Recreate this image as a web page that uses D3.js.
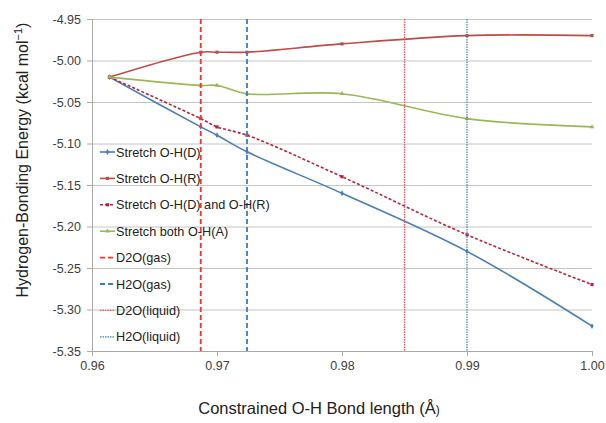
<!DOCTYPE html>
<html>
<head>
<meta charset="utf-8">
<script src="https://cdn.jsdelivr.net/npm/d3@7"></script>
<style>
  body { margin: 0; background: #fff; }
  svg { font-family: "Liberation Sans", Arial, sans-serif; }
</style>
</head>
<body>
<div id="chart"></div>
<script>
// Bond lengths (Å) where each stretch was computed
const bondLengths = [0.9614, 0.9687, 0.97, 0.9724, 0.98, 0.99, 1.00];

// Hydrogen-bonding energies (kcal/mol)
const stretchD = [-5.02, -5.08, -5.09, -5.11, -5.16, -5.23, -5.32];
const stretchR = [-5.02, -4.99, -4.99, -4.99, -4.98, -4.97, -4.97];
const stretchDR = [-5.02, -5.07, -5.08, -5.09, -5.14, -5.21, -5.27];
const stretchA = [-5.02, -5.03, -5.03, -5.04, -5.04, -5.07, -5.08];

// Reference O-H lengths (vertical markers)
const refNames = ['D2O(gas)', 'H2O(gas)', 'D2O(liquid)', 'H2O(liquid)'];
const refValues = [0.9687, 0.9724, 0.985, 0.99];

const xTicks = [0.96, 0.97, 0.98, 0.99, 1.00];
const yTicks = [-4.95, -5.00, -5.05, -5.10, -5.15, -5.20, -5.25, -5.30, -5.35];

const seriesNames = ['Stretch O-H(D)', 'Stretch O-H(R)', 'Stretch O-H(D) and O-H(R)', 'Stretch both O-H(A)'];

// Dimensions
const W = 606, H = 423;
const margin = { top: 19, right: 14, bottom: 72, left: 92 };
const width = W - margin.left - margin.right;
const height = H - margin.top - margin.bottom;

const svg = d3.select('#chart').append('svg')
  .attr('width', W)
  .attr('height', H);

const g = svg.append('g')
  .attr('transform', `translate(${margin.left},${margin.top})`);

// Scales
const x = d3.scaleLinear().domain([0.96, 1.00]).range([0, width]);
const y = d3.scaleLinear().domain([-5.35, -4.95]).range([height, 0]);

// Grid
g.append('g')
  .call(d3.axisLeft(y).tickValues(yTicks).tickSize(-width).tickFormat(''))
  .call(a => a.select('.domain').remove())
  .selectAll('line')
  .attr('stroke', '#c4c4c4');

// Y axis
const yAxis = g.append('g')
  .call(d3.axisLeft(y).tickValues(yTicks).tickSize(5).tickPadding(6).tickFormat(d3.format('.2f')));
yAxis.select('.domain').attr('stroke', '#aaaaaa');
yAxis.selectAll('line').attr('stroke', '#aaaaaa');
yAxis.selectAll('text')
  .attr('font-size', 12.5)
  .attr('fill', '#404040')
  .text(d => d3.format('.2f')(d).replace('−', '-'));

// X axis
const xAxis = g.append('g')
  .attr('transform', `translate(0,${height})`)
  .call(d3.axisBottom(x).tickValues(xTicks).tickSize(5).tickPadding(5).tickFormat(d3.format('.2f')));
xAxis.select('.domain').attr('stroke', '#aaaaaa');
xAxis.selectAll('line').attr('stroke', '#aaaaaa');
xAxis.selectAll('text')
  .attr('font-size', 12.5)
  .attr('fill', '#404040');

// Axis titles
const xTitle = svg.append('text')
  .attr('x', 319)
  .attr('y', 414)
  .attr('text-anchor', 'middle')
  .attr('font-size', 16.5)
  .attr('fill', '#222');
xTitle.append('tspan').text('Constrained O-H Bond length (Å');
xTitle.append('tspan').attr('font-size', 12).text(')');

const yTitle = svg.append('text')
  .attr('transform', 'translate(28,160) rotate(-90)')
  .attr('text-anchor', 'middle')
  .attr('font-size', 16)
  .attr('fill', '#222');
yTitle.append('tspan').text('Hydrogen-Bonding Energy (kcal mol');
yTitle.append('tspan').attr('font-size', 11).attr('dy', -6).text('−1');
yTitle.append('tspan').attr('dy', 6).text(')');

// Styles
const seriesStyle = [
  { color: '#4a7ebb', dash: null, symbol: d3.symbolDiamond },
  { color: '#be4b48', dash: null, symbol: d3.symbolSquare },
  { color: '#c0203a', dash: '3,2', symbol: d3.symbolSquare },
  { color: '#98b954', dash: null, symbol: d3.symbolTriangle }
];
const refStyle = [
  { color: '#ff3030', dash: '5,3', w: 1.8 },
  { color: '#3a7dc4', dash: '5,3', w: 1.8 },
  { color: '#ff4a5a', dash: '1.5,1', w: 1.2 },
  { color: '#3a7dc4', dash: '1.5,1', w: 1.2 }
];

const allSeries = [stretchD, stretchR, stretchDR, stretchA];

const line = d3.line()
  .x(d => x(d[0]))
  .y(d => y(d[1]))
  .curve(d3.curveCatmullRom.alpha(0.5));

// Series
allSeries.forEach((vals, i) => {
  const pts = bondLengths.map((b, j) => [b, vals[j]]);
  const s = seriesStyle[i];
  g.append('path')
    .datum(pts)
    .attr('fill', 'none')
    .attr('stroke', s.color)
    .attr('stroke-width', 1.6)
    .attr('stroke-dasharray', s.dash)
    .attr('d', line);
  g.selectAll(null)
    .data(pts)
    .join('path')
    .attr('transform', d => `translate(${x(d[0])},${y(d[1])})`)
    .attr('d', d3.symbol().type(s.symbol).size(10))
    .attr('fill', s.color);
});

// Reference lines
refValues.forEach((v, i) => {
  const r = refStyle[i];
  g.append('line')
    .attr('x1', x(v)).attr('x2', x(v))
    .attr('y1', 0).attr('y2', height)
    .attr('stroke', r.color)
    .attr('stroke-width', r.w)
    .attr('stroke-dasharray', r.dash);
});

// Legend
const legend = svg.append('g').attr('transform', 'translate(100,152)');
const legendItems = seriesNames.map((n, i) => ({ name: n, type: 'series', i }))
  .concat(refNames.map((n, i) => ({ name: n, type: 'ref', i })));

legendItems.forEach((d, k) => {
  const row = legend.append('g').attr('transform', `translate(0,${k * 26.4})`);
  if (d.type === 'series') {
    const s = seriesStyle[d.i];
    row.append('line')
      .attr('x1', 0).attr('x2', 15)
      .attr('stroke', s.color)
      .attr('stroke-width', 1.6)
      .attr('stroke-dasharray', s.dash);
    row.append('path')
      .attr('transform', 'translate(7.5,0)')
      .attr('d', d3.symbol().type(s.symbol).size(10))
      .attr('fill', s.color);
  } else {
    const r = refStyle[d.i];
    row.append('line')
      .attr('x1', 0).attr('x2', 15)
      .attr('stroke', r.color)
      .attr('stroke-width', r.w)
      .attr('stroke-dasharray', r.dash);
  }
  row.append('text')
    .attr('x', 16)
    .attr('y', 4.5)
    .attr('font-size', 12.7)
    .attr('fill', '#222')
    .text(d.name);
});
</script>
</body>
</html>
